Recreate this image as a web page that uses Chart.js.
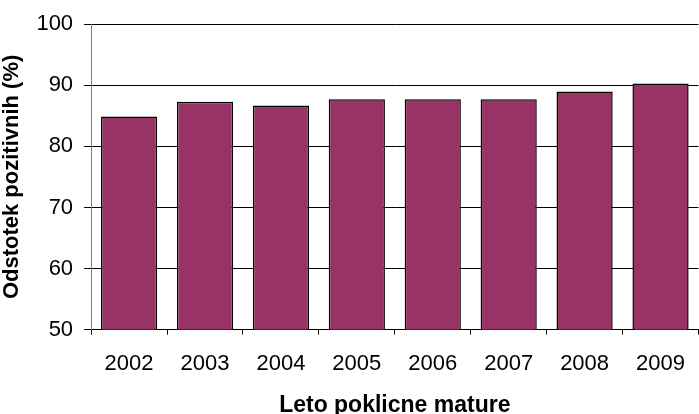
<!DOCTYPE html>
<html>
<head>
<meta charset="utf-8">
<script src="https://cdn.jsdelivr.net/npm/chart.js@4/dist/chart.umd.min.js"></script>
<style>
  html, body { margin: 0; padding: 0; background: #fff; overflow: hidden; }
  #wrap { position: relative; width: 701px; height: 414px; }
</style>
</head>
<body>
<div id="wrap"><canvas id="myBarChart"></canvas></div>
<script>
const years = ["2002", "2003", "2004", "2005", "2006", "2007", "2008", "2009"];
const positivePct = [84.9, 87.3, 86.7, 87.7, 87.7, 87.7, 89.0, 90.3];
const yTicks = [50, 60, 70, 80, 90, 100];

const ctx = document.getElementById("myBarChart");

new Chart(ctx, {
  type: "bar",
  data: {
    labels: years,
    datasets: [
      {
        label: "Odstotek pozitivnih",
        data: positivePct,
        backgroundColor: "#993366",
        borderColor: "#000",
        borderWidth: 1.5,
        borderSkipped: false,
        barPercentage: 0.74,
        categoryPercentage: 1,
      },
    ],
  },
  options: {
    responsive: true,
    maintainAspectRatio: false,
    animation: false,
    layout: {
      padding: { top: 10, right: 0, left: -1, bottom: -3 },
    },
    plugins: {
      legend: { display: false },
      tooltip: { enabled: false },
    },
    scales: {
      x: {
        grid: {
          drawOnChartArea: false,
          color: "#000",
          tickLength: 5,
        },
        border: { display: true, color: "#000" },
        ticks: {
          color: "#000",
          padding: 16,
          font: { family: "Liberation Sans", size: 22 },
        },
        title: {
          display: true,
          text: "Leto poklicne mature",
          color: "#000",
          padding: { top: 1, bottom: 0 },
          font: { family: "Liberation Sans", size: 23, weight: "bold", lineHeight: 1 },
        },
      },
      y: {
        min: 50,
        max: 100,
        afterBuildTicks: (axis) => {
          axis.ticks = yTicks.map((v) => ({ value: v }));
        },
        grid: {
          color: "#000",
          tickLength: 7,
        },
        border: { display: true, color: "#808080" },
        ticks: {
          color: "#000",
          padding: 11,
          font: { family: "Liberation Sans", size: 22 },
        },
        title: {
          display: true,
          text: "Odstotek pozitivnih (%)",
          color: "#000",
          padding: { top: 0, bottom: 0 },
          font: { family: "Liberation Sans", size: 22, weight: "bold" },
        },
      },
    },
  },
});
</script>
</body>
</html>
